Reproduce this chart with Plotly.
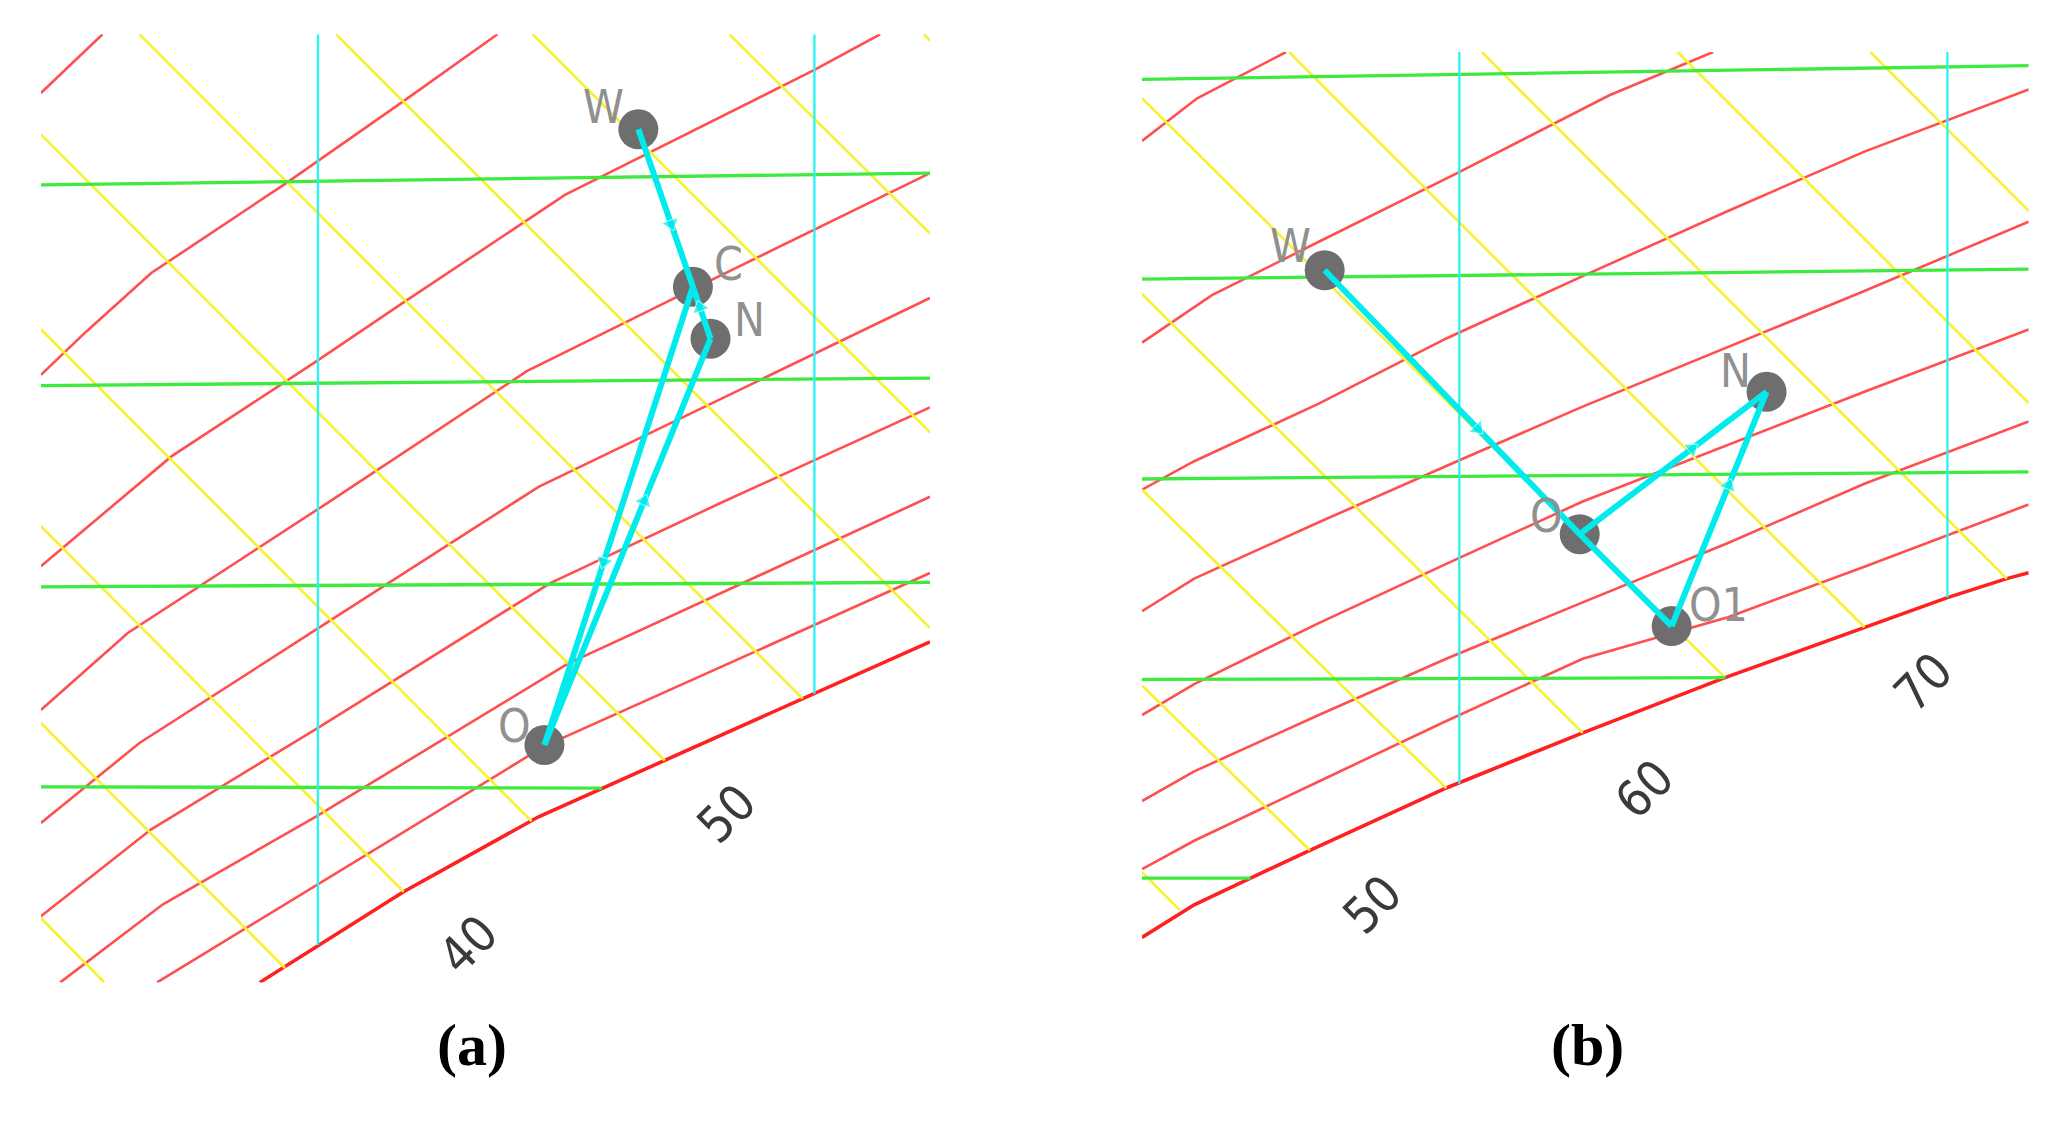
import plotly.graph_objects as go

# ---------------- panel (a) : excerpt of the i-d chart ----------------
# relative-humidity curves (thin red) and the saturation curve
A_RED_X = [
    [22, 127],
    [22, 100, 210, 440, 640, 800],
    [22, 150, 245, 490, 640, 915, 1340, 1452],
    [22, 170, 510, 850, 1130, 1537],
    [22, 190, 490, 870, 1537],
    [22, 210, 490, 890, 1180, 1537],
    [55, 230, 490, 920, 1537],
    [220, 880, 1537],
]
A_RED_Y = [
    [112, 18],
    [563, 493, 400, 256, 125, 18],
    [869, 768, 693, 542, 447, 275, 75, 18],
    [1099, 976, 768, 557, 427, 240],
    [1280, 1152, 971, 742, 440],
    [1429, 1290, 1130, 896, 768, 615],
    [1535, 1410, 1270, 1025, 758],
    [1535, 1157, 880],
]
A_SAT_X = [395, 640, 870, 1085, 1320, 1537]
A_SAT_Y = [1535, 1390, 1270, 1180, 1081, 990]
# enthalpy lines (yellow)
A_YEL_X = [[190, 1320], [525, 1537], [860, 1537], [1195, 1537], [1527, 1537],
           [22, 1085], [22, 858], [22, 640], [22, 438], [22, 130]]
A_YEL_Y = [[18, 1081], [18, 968], [18, 655], [18, 337], [18, 28],
           [178, 1180], [490, 1277], [805, 1390], [1120, 1512], [1432, 1535]]
# isotherms (green)
A_GRN_X = [[22, 1537], [22, 1537], [22, 1537], [22, 978]]
A_GRN_Y = [[259, 240], [580, 568], [902, 895], [1222, 1224]]
# constant moisture content (cyan verticals)
A_CYN_X = [[494, 494], [1340, 1340]]
A_CYN_Y = [[18, 1475], [18, 1073]]
# state points and process
A_PT_NAME = ["W", "C", "N", "O"]
A_PT_X = [1040, 1133, 1163, 880]
A_PT_Y = [170, 422, 505, 1155]
A_PATH = [("W", "C", True), ("C", "O", True), ("O", "N", True), ("N", "C", True)]
A_TICK_TEXT = ["40", "50"]
A_TICK_X = [750, 1190]
A_TICK_Y = [1475, 1265]

# ---------------- panel (b) ----------------
B_RED_X = [
    [32, 125, 275],
    [32, 150, 330, 560, 820, 995],
    [32, 120, 330, 545, 775, 1020, 1250, 1527],
    [32, 120, 330, 545, 775, 1020, 1250, 1527],
    [32, 120, 330, 545, 775, 1020, 1250, 1527],
    [32, 120, 330, 545, 775, 1020, 1250, 1527],
    [32, 120, 330, 545, 775, 1020, 1250, 1527],
]
B_RED_Y = [
    [182, 110, 32],
    [522, 442, 352, 238, 105, 32],
    [770, 722, 625, 515, 410, 300, 200, 95],
    [975, 920, 825, 730, 630, 530, 435, 318],
    [1150, 1098, 995, 895, 790, 695, 605, 500],
    [1295, 1245, 1150, 1055, 960, 860, 760, 655],
    [1410, 1362, 1262, 1160, 1055, 985, 900, 795],
]
B_SAT_X = [32, 120, 215, 315, 545, 775, 1015, 1250, 1390, 1490, 1527]
B_SAT_Y = [1525, 1470, 1425, 1378, 1273, 1180, 1087, 1002, 952, 920, 910]
B_YEL_X = [[280, 1250], [605, 1490], [935, 1527], [1260, 1527],
           [32, 1015], [32, 775], [32, 545], [32, 315], [32, 95]]
B_YEL_Y = [[32, 1002], [32, 920], [32, 624], [32, 300],
           [110, 1087], [440, 1180], [770, 1273], [1100, 1378], [1415, 1478]]
B_GRN_X = [[32, 1527], [32, 1527], [32, 1527], [32, 1015], [32, 215]]
B_GRN_Y = [[78, 55], [415, 398], [752, 740], [1090, 1087], [1425, 1425]]
B_CYN_X = [[567, 567], [1390, 1390]]
B_CYN_Y = [[32, 1266], [32, 952]]
B_PT_NAME = ["W", "O", "O1", "N"]
B_PT_X = [340, 770, 925, 1085]
B_PT_Y = [400, 845, 1000, 605]
B_PATH = [("W", "O", True), ("O", "O1", False), ("O1", "N", True), ("O", "N", True)]
B_TICK_TEXT = ["50", "60", "70"]
B_TICK_X = [420, 880, 1350]
B_TICK_Y = [1470, 1275, 1095]

# label offsets in screen pixels (dx, dy up)
A_LABEL_SHIFT = {"W": (-35, 22), "C": (36, 23), "N": (39, 19), "O": (-30, 19)}
B_LABEL_SHIFT = {"W": (-34, 24), "O": (-33, 18), "N": (-31, 21), "O1": (47, 21)}

NARROW = "Liberation Sans Narrow, DejaVu Sans Condensed, Roboto, sans-serif"
CYAN = "#00ecec"

fig = go.Figure()


def add_lines(xs, ys, color, width, xa, ya):
    x, y = [], []
    for px, py in zip(xs, ys):
        x += list(px) + [None]
        y += list(py) + [None]
    fig.add_trace(go.Scatter(x=x, y=y, mode="lines", xaxis=xa, yaxis=ya,
                             line=dict(color=color, width=width),
                             hoverinfo="skip", showlegend=False))


def add_panel(red_x, red_y, sat_x, sat_y, yel_x, yel_y, grn_x, grn_y,
              cyn_x, cyn_y, names, px, py, paths, shifts,
              tick_text, tick_x, tick_y, xa, ya):
    add_lines(red_x, red_y, "#ff4f4f", 2.6, xa, ya)
    add_lines([sat_x], [sat_y], "#ff2020", 3.6, xa, ya)
    add_lines(yel_x, yel_y, "#f6f22e", 2.6, xa, ya)
    add_lines(grn_x, grn_y, "#3fea3f", 3.3, xa, ya)
    add_lines(cyn_x, cyn_y, "#30f2f2", 2.4, xa, ya)

    fig.add_trace(go.Scatter(x=px, y=py, mode="markers", xaxis=xa, yaxis=ya,
                             marker=dict(size=40, color="#6e6e6e"),
                             hoverinfo="skip", showlegend=False))
    pos = dict(zip(names, zip(px, py)))
    for a, b, arrow in paths:
        (x0, y0), (x1, y1) = pos[a], pos[b]
        if arrow:
            xm, ym = x0 + 0.6 * (x1 - x0), y0 + 0.6 * (y1 - y0)
            xs, ys, sz = [x0, xm, x1], [y0, ym, y1], [0, 15, 0]
        else:
            xs, ys, sz = [x0, x1], [y0, y1], [0, 0]
        fig.add_trace(go.Scatter(
            x=xs, y=ys, mode="lines+markers", xaxis=xa, yaxis=ya,
            line=dict(color=CYAN, width=6),
            marker=dict(symbol="triangle-up", size=sz, color=CYAN,
                        angleref="previous"),
            hoverinfo="skip", showlegend=False))

    for n, x, y in zip(names, px, py):
        dx, dy = shifts[n]
        fig.add_annotation(x=x, y=y, xref=xa, yref=ya, text=n, showarrow=False,
                           xshift=dx, yshift=dy,
                           font=dict(family=NARROW, size=46, color="#909090"))
    for t, x, y in zip(tick_text, tick_x, tick_y):
        fig.add_annotation(x=x, y=y, xref=xa, yref=ya, text=t, showarrow=False,
                           textangle=-45,
                           font=dict(family=NARROW, size=50, color="#3a3a3a"))


add_panel(A_RED_X, A_RED_Y, A_SAT_X, A_SAT_Y, A_YEL_X, A_YEL_Y, A_GRN_X, A_GRN_Y,
          A_CYN_X, A_CYN_Y, A_PT_NAME, A_PT_X, A_PT_Y, A_PATH, A_LABEL_SHIFT,
          A_TICK_TEXT, A_TICK_X, A_TICK_Y, "x", "y")
add_panel(B_RED_X, B_RED_Y, B_SAT_X, B_SAT_Y, B_YEL_X, B_YEL_Y, B_GRN_X, B_GRN_Y,
          B_CYN_X, B_CYN_Y, B_PT_NAME, B_PT_X, B_PT_Y, B_PATH, B_LABEL_SHIFT,
          B_TICK_TEXT, B_TICK_X, B_TICK_Y, "x2", "y2")

W, H = 2050, 1126


def dom(left, top, right, bottom):
    return [left / W, right / W], [1 - bottom / H, 1 - top / H]


ax_a, ay_a = dom(32.9, 26.3, 922.0, 974.4)
ax_b, ay_b = dom(1134.0, 44.0, 2020.7, 932.4)
hidden = dict(visible=False, showgrid=False, zeroline=False, fixedrange=True)

fig.update_layout(
    width=W, height=H, margin=dict(l=0, r=0, t=0, b=0),
    paper_bgcolor="white", plot_bgcolor="white", showlegend=False,
    xaxis=dict(domain=ax_a, range=[22, 1537], **hidden),
    yaxis=dict(domain=ay_a, range=[1535, 18], **hidden),
    xaxis2=dict(domain=ax_b, range=[32, 1527], anchor="y2", **hidden),
    yaxis2=dict(domain=ay_b, range=[1530, 32], anchor="x2", **hidden),
)

for t, xc in (("(a)", 464), ("(b)", 1579)):
    fig.add_annotation(x=xc / W, y=1 - 1037 / H, xref="paper", yref="paper",
                       xanchor="center", yanchor="middle",
                       text="<b>" + t + "</b>", showarrow=False,
                       font=dict(family="Liberation Serif, serif", size=60,
                                 color="black"))

fig.write_html("out.html")
